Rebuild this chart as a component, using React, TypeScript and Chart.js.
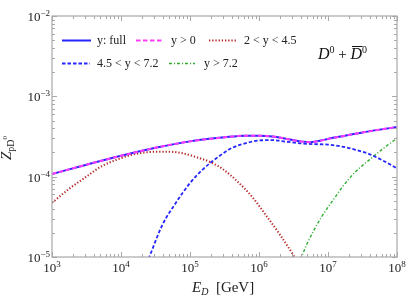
import React, { useEffect, useRef } from "react";
import { Chart, registerables } from "chart.js";

Chart.register(...registerables);

// ---- data ----
const fullE = [1e3, 3.16e3, 1e4, 3.16e4, 1e5, 3.16e5, 6.31e5, 1e6, 1.58e6, 2.51e6, 3.98e6, 5.62e6, 7.94e6, 1e7, 1.78e7, 3.16e7, 5.62e7, 1e8];
const fullZ = [1.08e-4, 1.41e-4, 1.82e-4, 2.29e-4, 2.75e-4, 3.09e-4, 3.24e-4, 3.24e-4, 3.16e-4, 2.95e-4, 2.75e-4, 2.69e-4, 2.82e-4, 2.95e-4, 3.24e-4, 3.55e-4, 3.85e-4, 4.15e-4];

const posE = [1e3, 3.16e3, 1e4, 3.16e4, 1e5, 3.16e5, 6.31e5, 1e6, 1.58e6, 2.51e6, 3.98e6, 5.62e6, 7.94e6, 1e7, 1.78e7, 3.16e7, 5.62e7, 1e8];
const posZ = [1.08e-4, 1.41e-4, 1.82e-4, 2.29e-4, 2.75e-4, 3.09e-4, 3.24e-4, 3.24e-4, 3.16e-4, 2.95e-4, 2.75e-4, 2.69e-4, 2.82e-4, 2.95e-4, 3.24e-4, 3.55e-4, 3.85e-4, 4.15e-4];

const midE = [1e3, 1.78e3, 3.16e3, 5.01e3, 1e4, 1.58e4, 3.16e4, 5.01e4, 7.94e4, 1.26e5, 2.0e5, 3.16e5, 5.01e5, 7.94e5, 1.26e6, 2.0e6, 3.16e6, 3.55e6];
const midZ = [4.73e-5, 7.08e-5, 1.0e-4, 1.32e-4, 1.7e-4, 1.91e-4, 2.04e-4, 2.04e-4, 1.95e-4, 1.74e-4, 1.51e-4, 1.2e-4, 8.51e-5, 5.62e-5, 3.31e-5, 1.91e-5, 1.05e-5, 8.9e-6];

const fwdE = [2.51e4, 3.98e4, 6.31e4, 1e5, 1.58e5, 2.51e5, 3.98e5, 6.31e5, 1e6, 1.58e6, 2.51e6, 3.98e6, 6.31e6, 1e7, 1.58e7, 2.51e7, 3.98e7, 6.31e7, 1e8];
const fwdZ = [9.5e-6, 2.51e-5, 4.79e-5, 8.32e-5, 1.26e-4, 1.74e-4, 2.26e-4, 2.6e-4, 2.82e-4, 2.85e-4, 2.72e-4, 2.6e-4, 2.54e-4, 2.51e-4, 2.37e-4, 2.16e-4, 1.91e-4, 1.58e-4, 1.27e-4];

const vfwdE = [3.98e6, 5.01e6, 6.31e6, 7.94e6, 1e7, 1.26e7, 1.58e7, 2.0e7, 2.51e7, 3.16e7, 3.98e7, 5.01e7, 6.31e7, 7.94e7, 1e8];
const vfwdZ = [9.3e-6, 1.48e-5, 2.19e-5, 3.09e-5, 4.17e-5, 5.5e-5, 7.24e-5, 9.33e-5, 1.15e-4, 1.38e-4, 1.62e-4, 1.91e-4, 2.24e-4, 2.6e-4, 3.02e-4];

const seriesLabels = ["y: full", "y > 0", "2 < y < 4.5", "4.5 < y < 7.2", "y > 7.2"];
const xDecades = [1e3, 1e4, 1e5, 1e6, 1e7, 1e8];
const xExponents = ["3", "4", "5", "6", "7", "8"];
const yDecades = [1e-5, 1e-4, 1e-3, 1e-2];
const yExponents = ["\u22125", "\u22124", "\u22123", "\u22122"];

const SERIF = '"Liberation Serif", "Times New Roman", serif';

type Run = { t: string; font: string; dy?: number; over?: boolean };

function runsWidth(ctx: CanvasRenderingContext2D, runs: Run[]) {
  let w = 0;
  for (const r of runs) {
    ctx.font = r.font;
    w += ctx.measureText(r.t).width;
  }
  return w;
}

function drawRuns(ctx: CanvasRenderingContext2D, runs: Run[], x: number, y: number, align: "left" | "right" | "center") {
  const w = runsWidth(ctx, runs);
  let cx = align === "left" ? x : align === "right" ? x - w : x - w / 2;
  ctx.textAlign = "left";
  ctx.textBaseline = "alphabetic";
  for (const r of runs) {
    ctx.font = r.font;
    const mw = ctx.measureText(r.t).width;
    ctx.fillText(r.t, cx, y + (r.dy || 0));
    if (r.over) {
      ctx.save();
      ctx.lineWidth = 1;
      ctx.beginPath();
      ctx.moveTo(cx + 1.5, y - 12.5);
      ctx.lineTo(cx + mw + 0.5, y - 12.5);
      ctx.strokeStyle = ctx.fillStyle as string;
      ctx.stroke();
      ctx.restore();
    }
    cx += mw;
  }
}

const decorPlugin = {
  id: "decor",
  afterDatasetsDraw(chart: any) {
    const ctx: CanvasRenderingContext2D = chart.ctx;
    const xs = chart.scales.x;
    const ys = chart.scales.y;
    const { left, right, top, bottom } = chart.chartArea;
    ctx.save();
    // frame
    ctx.strokeStyle = "#a8a8a8";
    ctx.lineWidth = 1.2;
    ctx.strokeRect(left, top, right - left, bottom - top);
    // ticks
    ctx.lineWidth = 1;
    ctx.beginPath();
    for (let d = 0; d < xDecades.length; d++) {
      for (let m = 1; m <= 9; m++) {
        const v = xDecades[d] * m;
        if (v > xDecades[xDecades.length - 1] + 1) break;
        const px = Math.round(xs.getPixelForValue(v)) + 0.5;
        const len = m === 1 ? 5 : 3;
        ctx.moveTo(px, bottom);
        ctx.lineTo(px, bottom - len);
        ctx.moveTo(px, top);
        ctx.lineTo(px, top + len);
      }
    }
    for (let d = 0; d < yDecades.length; d++) {
      for (let m = 1; m <= 9; m++) {
        const v = yDecades[d] * m;
        if (v > yDecades[yDecades.length - 1] * 1.0001) break;
        const py = Math.round(ys.getPixelForValue(v)) + 0.5;
        const len = m === 1 ? 5 : 3;
        ctx.moveTo(left, py);
        ctx.lineTo(left + len, py);
        ctx.moveTo(right, py);
        ctx.lineTo(right - len, py);
      }
    }
    ctx.stroke();

    // tick labels
    ctx.fillStyle = "#222";
    xDecades.forEach((v, i) => {
      const px = xs.getPixelForValue(v);
      drawRuns(ctx, [
        { t: "10", font: `13px ${SERIF}` },
        { t: xExponents[i], font: `9px ${SERIF}`, dy: -5 },
      ], px, 272, "center");
    });
    yDecades.forEach((v, i) => {
      const py = ys.getPixelForValue(v);
      drawRuns(ctx, [
        { t: "10", font: `13px ${SERIF}` },
        { t: yExponents[i], font: `9px ${SERIF}`, dy: -5 },
      ], left - 2, py + 5, "right");
    });

    // x title
    drawRuns(ctx, [
      { t: "E", font: `italic 15px ${SERIF}` },
      { t: "D", font: `italic 10px ${SERIF}`, dy: 3 },
      { t: "  [GeV]", font: `15px ${SERIF}` },
    ], 192, 292, "left");

    // y title (rotated)
    ctx.save();
    ctx.translate(11, 160);
    ctx.rotate(-Math.PI / 2);
    drawRuns(ctx, [
      { t: "Z", font: `italic 15px ${SERIF}` },
      { t: "pD", font: `10px ${SERIF}`, dy: 3 },
      { t: "0", font: `7px ${SERIF}`, dy: -4 },
    ], 0, 0, "left");
    ctx.restore();

    // legend
    const ds = chart.data.datasets;
    const entries = [
      { i: 0, x0: 62, x1: 91, tx: 97, y: 40 },
      { i: 1, x0: 136, x1: 163, tx: 171, y: 40 },
      { i: 2, x0: 209, x1: 237, tx: 244, y: 40 },
      { i: 3, x0: 62, x1: 90, tx: 97, y: 63 },
      { i: 4, x0: 169, x1: 195, tx: 204, y: 63 },
    ];
    for (const e of entries) {
      const d = ds[e.i];
      ctx.save();
      ctx.strokeStyle = d.borderColor;
      ctx.lineWidth = d.borderWidth;
      ctx.setLineDash(d.borderDash || []);
      ctx.lineCap = "butt";
      ctx.beginPath();
      ctx.moveTo(e.x0, e.y + 0.5);
      ctx.lineTo(e.x1, e.y + 0.5);
      ctx.stroke();
      ctx.restore();
      ctx.fillStyle = "#222";
      drawRuns(ctx, [{ t: seriesLabels[e.i], font: `12px ${SERIF}` }], e.tx, e.y + 4, "left");
    }

    // annotation D0 + D0bar
    ctx.fillStyle = "#111";
    drawRuns(ctx, [
      { t: "D", font: `italic 16px ${SERIF}` },
      { t: "0", font: `10px ${SERIF}`, dy: -6 },
      { t: " + ", font: `15px ${SERIF}` },
      { t: "D", font: `italic 16px ${SERIF}`, over: true },
      { t: "0", font: `10px ${SERIF}`, dy: -6 },
    ], 318, 59, "left");

    ctx.restore();
  },
};

function pts(xsArr: number[], ysArr: number[]) {
  return xsArr.map((x, i) => ({ x, y: ysArr[i] }));
}

export default function App() {
  const ref = useRef<HTMLCanvasElement | null>(null);
  useEffect(() => {
    if (!ref.current) return;
    const common = { pointRadius: 0, fill: false, cubicInterpolationMode: "monotone" as const, clip: 0 };
    const chart = new Chart(ref.current, {
      type: "line",
      data: {
        datasets: [
          { ...common, label: seriesLabels[0], data: pts(fullE, fullZ), borderColor: "#2525ff", borderWidth: 2, borderDash: [], order: 3 },
          { ...common, label: seriesLabels[1], data: pts(posE, posZ), borderColor: "#ff3cff", borderWidth: 2, borderDash: [4.5, 2.5], order: 2 },
          { ...common, label: seriesLabels[2], data: pts(midE, midZ), borderColor: "#b52a2a", borderWidth: 2, borderDash: [1.3, 1.9], order: 4 },
          { ...common, label: seriesLabels[3], data: pts(fwdE, fwdZ), borderColor: "#2626ff", borderWidth: 1.8, borderDash: [3.5, 2], order: 5 },
          { ...common, label: seriesLabels[4], data: pts(vfwdE, vfwdZ), borderColor: "#2eae2e", borderWidth: 1.4, borderDash: [3, 2, 1, 2], order: 6 },
        ],
      },
      options: {
        responsive: false,
        animation: false,
        devicePixelRatio: 1,
        layout: { padding: { left: 52, right: 10, top: 16, bottom: 42 } },
        plugins: { legend: { display: false }, tooltip: { enabled: false } },
        scales: {
          x: { type: "logarithmic", min: 1e3, max: 1e8, display: false },
          y: { type: "logarithmic", min: 1e-5, max: 1e-2, display: false },
        },
      },
      plugins: [decorPlugin],
    });
    return () => chart.destroy();
  }, []);
  return (
    <div style={{ position: "absolute", left: 0, top: 0, width: 407, height: 299, background: "#fff" }}>
      <canvas ref={ref} width={407} height={299} />
    </div>
  );
}
